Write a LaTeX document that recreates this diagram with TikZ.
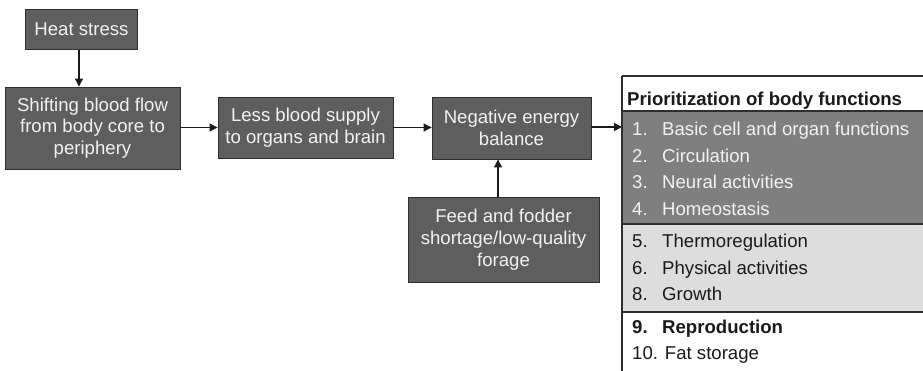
\documentclass[tikz,border=0pt]{standalone}
\usepackage{fontspec}
\setmainfont{Liberation Sans}
\usetikzlibrary{arrows.meta}
\definecolor{boxfill}{HTML}{5E5E5E}
\definecolor{boxline}{HTML}{2E2E2E}
\definecolor{boxtext}{HTML}{F2F2F2}
\definecolor{bandDark}{HTML}{7F7F7F}
\definecolor{bandLight}{HTML}{DDDDDD}
\definecolor{inktext}{HTML}{1A1A1A}
\tikzset{
  stepbox/.style={draw=boxline, line width=0.9pt, fill=boxfill, text=boxtext,
    align=center, inner sep=0pt,
    font=\fontsize{18.6}{21.7}\selectfont},
  flow/.style={draw=inktext, line width=1.1pt,
    -{Triangle[length=8pt,width=8pt]}},
  rule/.style={draw=boxline, line width=1.1pt},
  rowtxt/.style={anchor=base west, inner sep=0pt,
    font=\fontsize{18.6}{21.7}\selectfont},
}
\begin{document}
\begin{tikzpicture}[x=1pt,y=-1pt]
\useasboundingbox (0,0) rectangle (923,371);

% flow boxes
\node[stepbox, minimum width=112pt, minimum height=40pt] (heat) at (81.5,29.5) {Heat stress};
\node[stepbox, minimum width=175pt, minimum height=82pt] (shift) at (92.5,128)
  {Shifting blood flow\\from body core to\\periphery};
\node[stepbox, minimum width=175pt, minimum height=61pt] (less) at (305.5,127.5)
  {Less blood supply\\to organs and brain};
\node[stepbox, minimum width=159pt, minimum height=62pt] (neg) at (511.5,128)
  {Negative energy\\balance};
\node[stepbox, minimum width=191pt, minimum height=85pt] (feed) at (503.5,239.5)
  {Feed and fodder\\shortage/low-quality\\forage};

% priority list: shaded bands and rules
\fill[bandDark] (622,111) rectangle (923,224);
\fill[bandLight] (622,224) rectangle (923,312);
\draw[rule] (622,76) -- (923,76);
\draw[rule] (622,111) -- (923,111);
\draw[rule] (622,224) -- (923,224);
\draw[rule] (622,312) -- (923,312);
\draw[rule] (622,76) -- (622,371);
\coordinate (listedge) at (622,127);

\node[rowtxt, text=inktext, font=\fontsize{18.6}{21.7}\selectfont\bfseries] (head) at (627,105.5)
  {Prioritization of body functions};

\foreach \n/\t/\y in {1/Basic cell and organ functions/136, 2/Circulation/162.5,
    3/Neural activities/189, 4/Homeostasis/215.5}{
  \node[rowtxt, text=boxtext] (num\n) at (632,\y) {\n.};
  \node[rowtxt, text=boxtext] (item\n) at (662,\y) {\t};
}
\foreach \n/\t/\y in {5/Thermoregulation/248, 6/Physical activities/274, 8/Growth/300.5}{
  \node[rowtxt, text=inktext] (num\n) at (632,\y) {\n.};
  \node[rowtxt, text=inktext] (item\n) at (662,\y) {\t};
}
\node[rowtxt, text=inktext, font=\fontsize{18.6}{21.7}\selectfont\bfseries] (num9) at (632,333) {9.};
\node[rowtxt, text=inktext, font=\fontsize{18.6}{21.7}\selectfont\bfseries] (item9) at (662,333) {Reproduction};
\node[rowtxt, text=inktext] (item10) at (632,359) {10. Fat storage};

% connectors
\draw[flow] (heat.south -| 79,0) -- (shift.north -| 79,0);
\draw[flow] (shift.east |- less.west) -- (less.west);
\draw[flow] (less.east) -- (less.east -| neg.west);
\draw[flow] (neg.east |- listedge) -- (listedge);
\draw[flow] (feed.north -| 498,0) -- (neg.south -| 498,0);
\end{tikzpicture}
\end{document}
